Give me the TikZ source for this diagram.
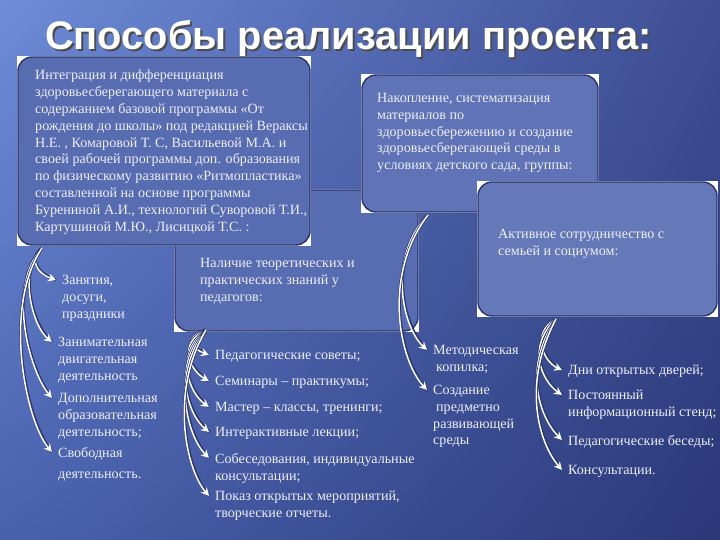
\documentclass[tikz,border=0pt]{standalone}
\usepackage{fontspec}
\setmainfont{Liberation Serif}
\newfontfamily\headfont{Liberation Sans}
\usetikzlibrary{arrows.meta,shadings}

\definecolor{bgA}{RGB}{110,140,216}
\definecolor{bgB}{RGB}{62,78,148}
\definecolor{bgC}{RGB}{74,98,174}
\definecolor{bgD}{RGB}{42,56,120}
\definecolor{boxfill}{RGB}{88,108,178}
\definecolor{boxline}{RGB}{42,52,106}
\definecolor{txtc}{RGB}{238,238,246}

\tikzset{
	box/.style={draw=boxline, line width=1.4pt, fill=boxfill, rounded corners=14pt},
	backing/.style={fill=white},
	txt/.style={text=txtc, align=left, anchor=north west, inner sep=0pt, font=\fontsize{14.1}{16.8}\selectfont},
	arr/.style={draw=white, line width=1.5pt, -{Stealth[length=8pt,width=8pt]}, preaction={draw=boxline, line width=3pt, arrows=-}},
}

\begin{document}
\begin{tikzpicture}[x=1pt, y=-1pt]
	
	\shade[upper left=bgA, upper right=bgB, lower left=bgC, lower right=bgD] (0,0) rectangle (720,540);
	\useasboundingbox (0,0) rectangle (720,540);
	
	% title
	\node[anchor=base west, inner sep=0pt, text=black!70, font=\headfont\bfseries\fontsize{39.8}{42}\selectfont] at (47,52) {Способы реализации проекта:};
	\node[anchor=base west, inner sep=0pt, text=white, font=\headfont\bfseries\fontsize{39.8}{42}\selectfont] (title) at (45,50) {Способы реализации проекта:};
	
	% boxes
	\fill[backing] (174,189) rectangle (419,332);
	\draw[box] (175,190) rectangle (418,331);
	\fill[backing] (17,56) rectangle (311,246);
	\draw[box] (18,57) rectangle (310,245);
	\fill[backing] (361,74) rectangle (599,213);
	\draw[box, fill=boxfill!95!white] (362,75) rectangle (598,212);
	\fill[backing] (477,181) rectangle (718,317);
	\draw[box, fill=boxfill!92!white] (478,182) rectangle (717,316);
	
	\node[txt] (integr) at (35,70) {Интеграция и дифференциация\\здоровьесберегающего материала с\\содержанием базовой программы «От\\рождения до школы» под редакцией Вераксы\\Н.Е. , Комаровой Т. С, Васильевой М.А. и\\своей рабочей программы доп. образования\\по физическому развитию «Ритмопластика»\\составленной  на основе программы\\Бурениной А.И., технологий Суворовой  Т.И.,\\Картушиной М.Ю., Лисицкой Т.С. :};
	\node[txt] (nakop) at (377,93) {Накопление, систематизация\\материалов по\\здоровьесбережению и создание\\здоровьесберегающей среды в\\условиях детского сада, группы:};
	\node[txt] (nalich) at (200,258) {Наличие теоретических и\\практических знаний у\\педагогов:};
	\node[txt] (aktiv) at (498,229) {Активное сотрудничество с\\семьей и социумом:};
	
	% items
	\node[txt] (zan) at (62,275) {Занятия,\\досуги,\\праздники};
	\node[txt] (zanim) at (58,337) {Занимательная\\двигательная\\деятельность};
	\node[txt] (dop) at (58,393) {Дополнительная\\образовательная\\деятельность;};
	\node[txt] (svob) at (58,447) {Свободная\\[4pt]деятельность.};
	
	\node[txt] (sov) at (215,350) {Педагогические советы;};
	\node[txt] (sem) at (215,376) {Семинары – практикумы;};
	\node[txt] (mast) at (215,402) {Мастер – классы, тренинги;};
	\node[txt] (lek) at (215,427) {Интерактивные лекции;};
	\node[txt] (sobes) at (215,453) {Собеседования, индивидуальные\\консультации;};
	\node[txt] (pokaz) at (215,491) {Показ открытых мероприятий,\\творческие отчеты.};
	
	\node[txt] (metod) at (433,345) {Методическая\\\hspace{3pt}копилка;};
	\node[txt] (sozd) at (433,385) {Создание\\\hspace{3pt}предметно\\развивающей\\среды};
	
	\node[txt] (dni) at (568,365) {Дни открытых дверей;};
	\node[txt] (stend) at (568,390) {Постоянный\\информационный стенд;};
	\node[txt] (bes) at (568,435) {Педагогические беседы;};
	\node[txt] (kons) at (568,465) {Консультации.};
	
	% arrows
	\coordinate (s1) at (42,248);
	\coordinate (s2) at (206,330);
	\coordinate (s3) at (428,215);
	\coordinate (s4) at (556,319);
	
	\draw[arr] (s1) .. controls +(-14,12) and +(-18,-6) .. ([xshift=-6pt, yshift=-5pt]zan.north west);
	\draw[arr] (s1) .. controls +(-24,22) and +(-20,-16) .. ([xshift=-6pt, yshift=-5pt]zanim.north west);
	\draw[arr] (s1) .. controls +(-36,40) and +(-22,-26) .. ([xshift=-6pt, yshift=-5pt]dop.north west);
	\draw[arr] (s1) .. controls +(-40,60) and +(-26,-30) .. ([xshift=-6pt, yshift=-5pt]svob.north west);
	
	\draw[arr] (s2) .. controls +(-24,8) and +(-16,-6) .. ([xshift=-6pt, yshift=-5pt]sov.north west);
	\draw[arr] (s2) .. controls +(-30,14) and +(-18,-10) .. ([xshift=-6pt, yshift=-5pt]sem.north west);
	\draw[arr] (s2) .. controls +(-32,24) and +(-20,-14) .. ([xshift=-6pt, yshift=-5pt]mast.north west);
	\draw[arr] (s2) .. controls +(-34,34) and +(-22,-18) .. ([xshift=-6pt, yshift=-5pt]lek.north west);
	\draw[arr] (s2) .. controls +(-35,44) and +(-22,-22) .. ([xshift=-6pt, yshift=-5pt]sobes.north west);
	\draw[arr] (s2) .. controls +(-36,60) and +(-24,-28) .. ([xshift=-6pt, yshift=-5pt]pokaz.north west);
	
	\draw[arr] (s3) .. controls +(-40,40) and +(-26,-24) .. ([xshift=-6pt, yshift=-5pt]metod.north west);
	\draw[arr] (s3) .. controls +(-46,60) and +(-28,-30) .. ([xshift=-6pt, yshift=-5pt]sozd.north west);
	
	\draw[arr] (s4) .. controls +(-26,14) and +(-18,-8) .. ([xshift=-6pt, yshift=-5pt]dni.north west);
	\draw[arr] (s4) .. controls +(-30,28) and +(-20,-14) .. ([xshift=-6pt, yshift=-5pt]stend.north west);
	\draw[arr] (s4) .. controls +(-34,50) and +(-22,-22) .. ([xshift=-6pt, yshift=-5pt]bes.north west);
	\draw[arr] (s4) .. controls +(-34,64) and +(-24,-28) .. ([xshift=-6pt, yshift=-5pt]kons.north west);
	
\end{tikzpicture}
\end{document}
